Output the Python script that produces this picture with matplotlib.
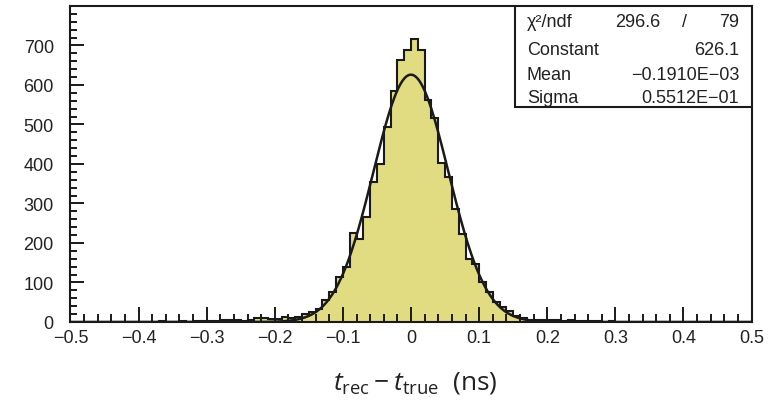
import numpy as np
import matplotlib
matplotlib.use('Agg')
import matplotlib.pyplot as plt
from matplotlib.ticker import MultipleLocator, FuncFormatter

# histogram contents, 100 bins from -0.5 to 0.5 ns
counts = [
    0, 0, 0, 0, 0, 0, 0, 0, 0, 1,
    0, 1, 1, 2, 1, 1, 2, 1, 2, 2,
    2, 3, 5, 6, 4, 3, 5, 9, 10, 7,
    8, 12, 10, 13, 20, 26, 33, 56, 75, 113,
    138, 225, 210, 266, 354, 400, 494, 585, 662, 688,
    716, 688, 563, 517, 402, 368, 286, 223, 159, 147,
    101, 76, 50, 38, 28, 16, 9, 6, 5, 6,
    4, 5, 3, 4, 3, 2, 3, 2, 1, 2,
    1, 1, 0, 1, 0, 0, 0, 0, 0, 0,
    0, 0, 0, 0, 0, 0, 0, 0, 0, 0,
]
x_min, x_max = -0.5, 0.5

# gaussian fit result
fit_const = 626.1
fit_mean = -0.1910e-03
fit_sigma = 0.5512e-01

stat_names = ['χ²/ndf', 'Constant', 'Mean', 'Sigma']
stat_values = ['79', '626.1', '\u22120.1910E\u221203', '0.5512E\u221201']
chi2_text = '296.6'

plt.rcParams['mathtext.fontset'] = 'custom'
plt.rcParams['mathtext.rm'] = 'Open Sans'
plt.rcParams['mathtext.it'] = 'Open Sans:italic'

fig = plt.figure(figsize=(7.77, 4.10), dpi=100)
ax = fig.add_axes([0.0907, 0.2122, 0.8766, 0.7708])

edges = np.linspace(x_min, x_max, len(counts) + 1)
ax.stairs(counts, edges, fill=True, color='#e1dc82', zorder=1)
ax.stairs(counts, edges, color='#1a1a1a', lw=1.5, zorder=2)

xf = np.linspace(x_min, x_max, 1000)
yf = fit_const * np.exp(-0.5 * ((xf - fit_mean) / fit_sigma) ** 2)
ax.plot(xf, yf, color='#1a1a1a', lw=1.8, zorder=3)

ax.set_xlim(x_min, x_max)
ax.set_ylim(0, 800)
ax.xaxis.set_major_locator(MultipleLocator(0.1))
ax.xaxis.set_minor_locator(MultipleLocator(0.02))
ax.yaxis.set_major_locator(MultipleLocator(100))
ax.yaxis.set_minor_locator(MultipleLocator(20))
ax.yaxis.set_major_formatter(FuncFormatter(lambda v, p: '%d' % v if v < 800 else ''))
ax.xaxis.set_major_formatter(FuncFormatter(lambda v, p: ('%g' % round(v, 2)).replace('-', '\u2212')))
ax.tick_params(which='both', direction='in', width=1.4, color='#1a1a1a',
               labelsize=13, labelcolor='#222222')
ax.tick_params(axis='x', which='major', length=11, pad=5)
ax.tick_params(axis='x', which='minor', length=5.5)
ax.tick_params(axis='y', which='major', length=10, pad=12)
ax.tick_params(axis='y', which='minor', length=5)
for lab in ax.get_xticklabels() + ax.get_yticklabels():
    lab.set_fontfamily('Liberation Sans')
for s in ax.spines.values():
    s.set_linewidth(1.5)
    s.set_color('#1a1a1a')

# stats box
bx0, by0 = 0.652, 0.680
ax.add_patch(plt.Rectangle((bx0, by0), 1 - bx0, 1 - by0, transform=ax.transAxes,
                           facecolor='white', edgecolor='#1a1a1a', lw=1.5, zorder=5))
row_y = [0.952, 0.862, 0.783, 0.710]
txt = dict(transform=ax.transAxes, va='center', fontsize=13,
           family='Liberation Sans', color='#222222', zorder=6)
for name, val, yy in zip(stat_names, stat_values, row_y):
    ax.text(0.670, yy, name, ha='left', **txt)
    ax.text(0.982, yy, val, ha='right', **txt)
ax.text(0.866, row_y[0], chi2_text, ha='right', **txt)
ax.text(0.902, row_y[0], '/', ha='center', **txt)

fig.text(0.534, 0.065, r'$\mathit{t}_{\mathrm{rec}} - \mathit{t}_{\mathrm{true}}$  (ns)',
         ha='center', va='center', fontsize=19, family='Open Sans', color='#222222')

fig.savefig('out.png', dpi=100)
